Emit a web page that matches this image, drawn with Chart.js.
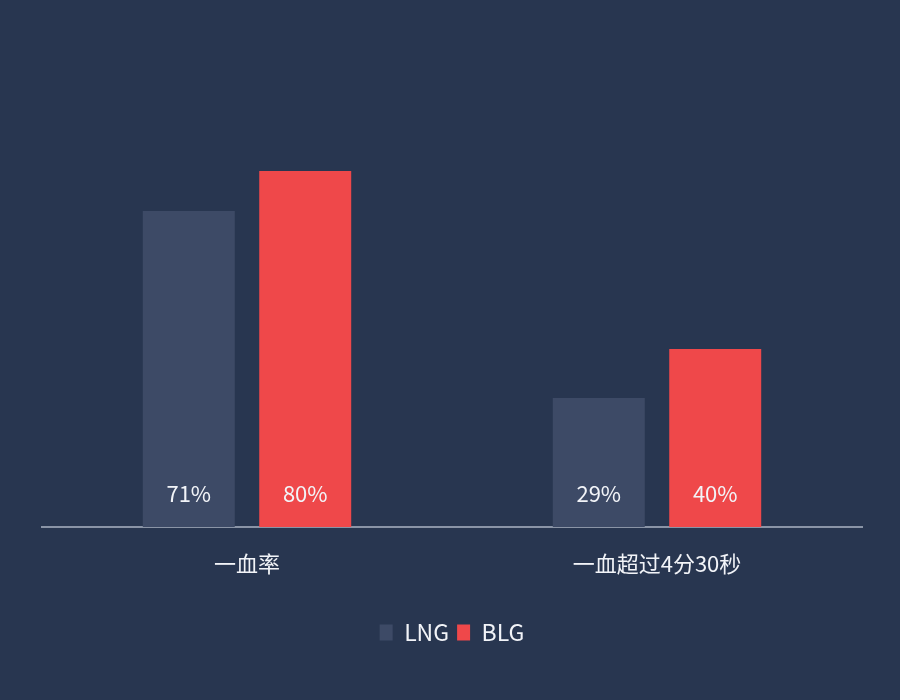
<!DOCTYPE html>
<html>
<head>
<meta charset="utf-8">
<script src="https://cdn.jsdelivr.net/npm/chart.js@4/dist/chart.umd.min.js"></script>
<style>
  html, body { margin: 0; padding: 0; background: #283650; }
  canvas { display: block; }
</style>
</head>
<body>
<canvas id="c" width="900" height="700"></canvas>
<script>
const categories = ['一血率', '一血超过4分30秒'];
const lngValues = [71, 29];
const blgValues = [80, 40];

const FONT = '"Noto Sans CJK SC", "Noto Sans", sans-serif';

// 柱内底部的百分比标签
const valueLabels = {
  id: 'valueLabels',
  afterDatasetsDraw(chart) {
    const ctx = chart.ctx;
    ctx.save();
    ctx.font = '22px ' + FONT;
    ctx.fillStyle = '#f2f4f8';
    ctx.textAlign = 'center';
    ctx.textBaseline = 'middle';
    chart.data.datasets.forEach((ds, i) => {
      chart.getDatasetMeta(i).data.forEach((bar, j) => {
        ctx.fillText(ds.data[j] + '%', bar.x, bar.base - 33);
      });
    });
    ctx.restore();
  }
};

new Chart(document.getElementById('c'), {
  type: 'bar',
  data: {
    labels: categories,
    datasets: [
      { label: 'LNG', data: lngValues, backgroundColor: '#3d4a66' },
      { label: 'BLG', data: blgValues, backgroundColor: '#ef484a' }
    ]
  },
  options: {
    responsive: false,
    animation: false,
    categoryPercentage: 0.568,
    barPercentage: 0.79,
    layout: { padding: { left: 42, right: 38, top: 82, bottom: 46 } },
    scales: {
      x: {
        grid: { display: false },
        border: { color: '#8a94a6', width: 2 },
        ticks: { color: '#f2f4f8', font: { family: FONT, size: 22 }, padding: 15 },
        afterFit(scale) { scale.height = 86; }
      },
      y: { display: false, min: 0, max: 100 }
    },
    plugins: {
      legend: {
        position: 'bottom',
        labels: {
          color: '#f2f4f8',
          font: { family: FONT, size: 23 },
          boxWidth: 13,
          boxHeight: 16,
          padding: 8
        }
      },
      tooltip: { enabled: false }
    }
  },
  plugins: [valueLabels]
});
</script>
</body>
</html>
